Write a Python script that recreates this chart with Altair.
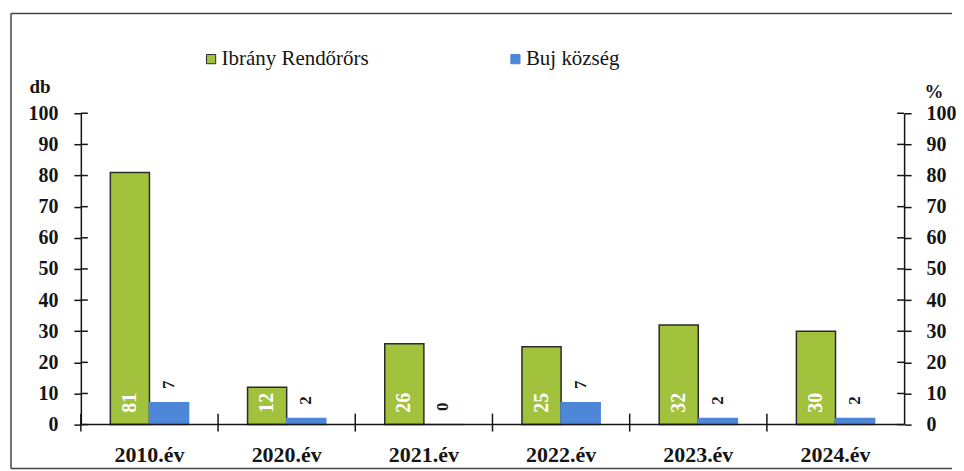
import altair as alt
import pandas as pd

# ---- data ----
years = ["2010.év", "2020.év", "2021.év", "2022.év", "2023.év", "2024.év"]
ibrany = [81, 12, 26, 25, 32, 30]
buj = [7, 2, 0, 7, 2, 2]
series = ["Ibrány Rendőrőrs", "Buj község"]
y_ticks = [0, 10, 20, 30, 40, 50, 60, 70, 80, 90, 100]

rows = []
for i, yr in enumerate(years):
    rows.append({"year": yr, "series": series[0], "value": ibrany[i]})
    rows.append({"year": yr, "series": series[1], "value": buj[i]})
df = pd.DataFrame(rows)
ytick_df = pd.DataFrame({"tickval": y_ticks})
year_df = pd.DataFrame({"year": years})

# ---- style ----
W, H = 825, 312
FONT = "Liberation Serif"
INK = "#151515"
colors = ["#a2c23e", "#4f87d8"]
outlines = ["#2b2b2b", "#4f87d8"]

x_scale = alt.Scale(domain=years, paddingInner=0, paddingOuter=0)
xo_scale = alt.Scale(domain=series, paddingInner=0, paddingOuter=0.754)
y_scale = alt.Scale(domain=[0, 100], nice=False, zero=True)

y_left_axis = alt.Axis(
    orient="left", values=y_ticks, ticks=True, tickSize=7, tickWidth=1.5, tickColor=INK,
    domain=True, domainColor=INK, domainWidth=1.5, grid=False,
    labelFont=FONT, labelFontSize=20, labelFontWeight="bold", labelColor=INK,
    labelPadding=16,
    title="db", titleAngle=0, titleX=-52, titleY=-21, titleAlign="left",
    titleBaseline="alphabetic", titleFont=FONT, titleFontSize=19,
    titleFontWeight="bold", titleColor=INK,
)

y_right_axis = alt.Axis(
    orient="right", values=y_ticks, ticks=True, tickSize=7, tickWidth=1.5, tickColor=INK,
    domain=True, domainColor=INK, domainWidth=1.5, grid=False,
    labelFont=FONT, labelFontSize=20, labelFontWeight="bold", labelColor=INK,
    labelPadding=15,
    title="%", titleAngle=0, titleX=20, titleY=-16, titleAlign="left",
    titleBaseline="alphabetic", titleFont=FONT, titleFontSize=19,
    titleFontWeight="bold", titleColor=INK,
)

legend = alt.Legend(
    orient="none", legendX=120, legendY=-65, direction="horizontal", title=None,
    labelFont=FONT, labelFontSize=21, labelColor=INK, symbolType="square",
    symbolSize=85, symbolStrokeColor="#333", symbolStrokeWidth=1,
    columnPadding=136, labelOffset=0,
)

X = lambda **kw: alt.X("year:N", scale=x_scale, axis=None, sort=years, **kw)

bars = alt.Chart(df).mark_bar(strokeWidth=1.5).encode(
    x=X(),
    xOffset=alt.XOffset("series:N", scale=xo_scale),
    y=alt.Y("value:Q", scale=y_scale, axis=y_left_axis),
    color=alt.Color("series:N", scale=alt.Scale(domain=series, range=colors), legend=legend),
    stroke=alt.Stroke("series:N", scale=alt.Scale(domain=series, range=outlines), legend=None),
)

green_labels = alt.Chart(df).transform_filter(
    alt.datum.series == series[0]
).mark_text(
    angle=270, align="left", baseline="middle", dx=12,
    font=FONT, fontSize=20, fontWeight="bold", color="white",
).encode(
    x=X(),
    xOffset=alt.XOffset("series:N", scale=xo_scale),
    y=alt.YDatum(0, scale=y_scale, axis=None),
    text=alt.Text("value:Q"),
)

blue_labels = alt.Chart(df).transform_filter(
    alt.datum.series == series[1]
).mark_text(
    angle=270, align="center", baseline="middle", dx=18,
    font=FONT, fontSize=17, fontWeight="bold", color=INK,
).encode(
    x=X(),
    xOffset=alt.XOffset("series:N", scale=xo_scale),
    y=alt.Y("value:Q", scale=y_scale, axis=None),
    text=alt.Text("value:Q"),
)

right_axis = alt.Chart(df).mark_point(opacity=0).encode(
    x=X(),
    y=alt.Y("value:Q", scale=y_scale, axis=y_right_axis),
)

x_labels = alt.Chart(year_df).mark_text(
    baseline="top", align="center", font=FONT, fontSize=22, fontWeight="bold", color=INK,
).encode(
    x=X(), y=alt.value(H + 20), text=alt.Text("year:N"),
)

# inner halves of the crossing ticks (positions from the y scale)
left_ticks = alt.Chart(ytick_df).mark_rule(color=INK, strokeWidth=1.5).encode(
    y=alt.Y("tickval:Q", scale=y_scale, axis=None), x=alt.value(0), x2=alt.value(7)
)
right_ticks = alt.Chart(ytick_df).mark_rule(color=INK, strokeWidth=1.5).encode(
    y=alt.Y("tickval:Q", scale=y_scale, axis=None), x=alt.value(W - 7), x2=alt.value(W)
)
x_ticks = alt.Chart(year_df).mark_rule(color=INK, strokeWidth=1.5).encode(
    x=X(bandPosition=0),
    y=alt.value(H - 11), y2=alt.value(H + 7),
)

one = pd.DataFrame({"k": [0]})


def rule(x1, x2, y1, y2, color, width):
    return alt.Chart(one).mark_rule(color=color, strokeWidth=width).encode(
        x=alt.value(x1), x2=alt.value(x2), y=alt.value(y1), y2=alt.value(y2)
    )


domains = [
    rule(0, W, H, H, INK, 1.5),
]
frame = [
    rule(-70, 873, -100, -100, "#444", 1.5),
    rule(-70, -70, -100, 356, "#444", 1.5),
    rule(-70, 873, 356, 356, "#444", 1.5),
]

chart = alt.layer(
    bars, green_labels, blue_labels, right_axis, x_labels,
    left_ticks, right_ticks, x_ticks, *domains, *frame
).resolve_scale(y="independent").properties(
    width=W, height=H,
    padding={"left": 2, "top": 4, "right": 0, "bottom": 0},
    background="white",
).configure(font=FONT).configure_legend(labelFont=FONT).configure_view(stroke=None)

chart.save("out.html", embed_options={"renderer": "svg", "actions": False})
